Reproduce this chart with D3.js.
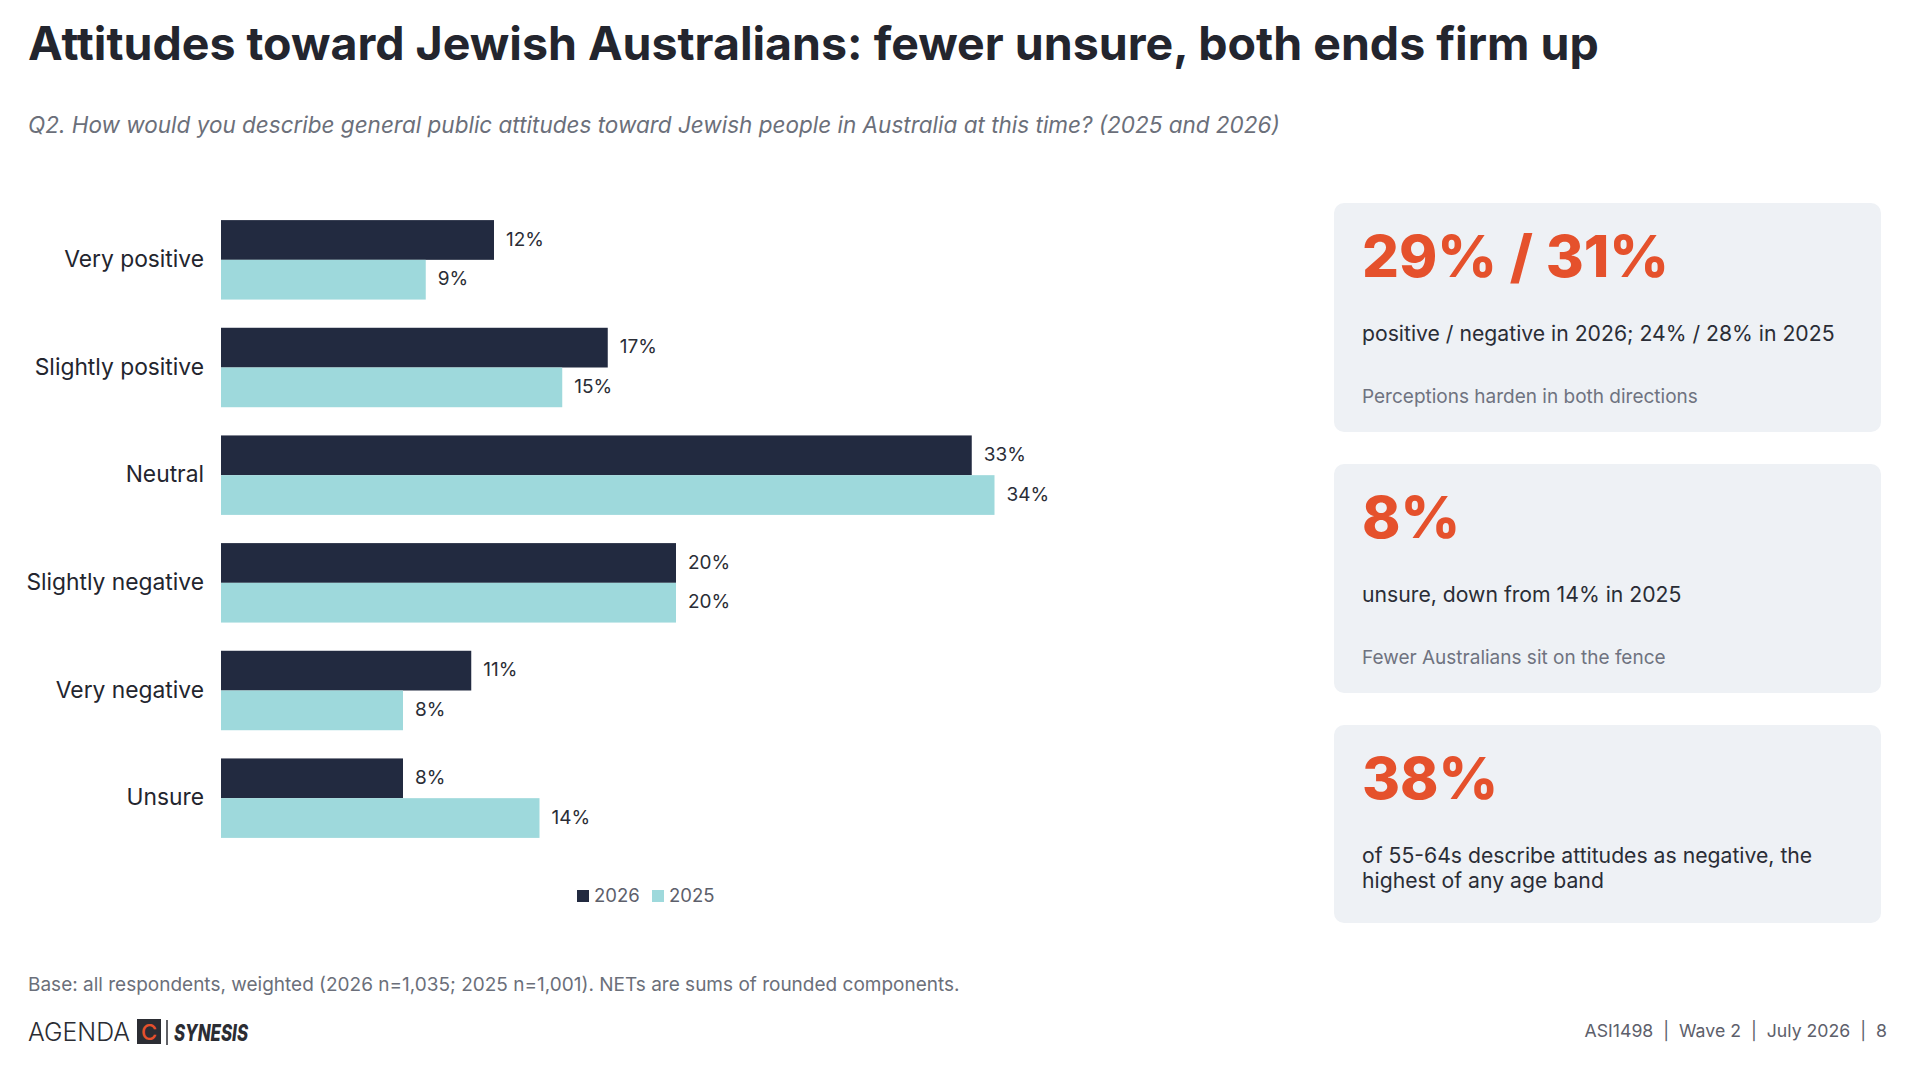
<!DOCTYPE html>
<html>
<head>
<meta charset="utf-8">
<script src="https://cdn.jsdelivr.net/npm/d3@7"></script>
<style>
  html, body { margin: 0; padding: 0; background: #ffffff; }
  svg { display: block; font-family: "Inter", "Noto Sans", sans-serif; }
</style>
</head>
<body>
<svg id="chart" width="1918" height="1068"></svg>
<script>
// chart data
const categories = ["Very positive", "Slightly positive", "Neutral", "Slightly negative", "Very negative", "Unsure"];
const seriesNames = ["2026", "2025"];
const values2026 = [12, 17, 33, 20, 11, 8];
const values2025 = [9, 15, 34, 20, 8, 14];

// callout cards on the right
const cardBig = ["29% / 31%", "8%", "38%"];
const cardText = [
    ["positive / negative in 2026; 24% / 28% in 2025"],
    ["unsure, down from 14% in 2025"],
    ["of 55-64s describe attitudes as negative, the", "highest of any age band"]
];
const cardNote = ["Perceptions harden in both directions", "Fewer Australians sit on the fence", ""];

const colors = { "2026": "#222a40", "2025": "#9ed9dc" };

document.addEventListener("DOMContentLoaded", () => {
    const svg = d3.select("#chart");

    // title + question
    svg.append("text")
        .attr("x", 28).attr("y", 59.5)
        .style("font-size", "46.5px").style("font-weight", 700)
        .attr("fill", "#23252e")
        .text("Attitudes toward Jewish Australians: fewer unsure, both ends firm up");

    svg.append("text")
        .attr("x", 28).attr("y", 133)
        .style("font-size", "22.5px").style("font-style", "italic")
        .attr("fill", "#6b6f7a")
        .text("Q2. How would you describe general public attitudes toward Jewish people in Australia at this time? (2025 and 2026)");

    // scales
    const y = d3.scaleBand()
        .domain(categories)
        .range([206, 852])
        .paddingInner(0.262)
        .paddingOuter(0.131);

    const ySub = d3.scaleBand()
        .domain(seriesNames)
        .range([0, y.bandwidth()]);

    const x = d3.scaleLinear()
        .domain([0, 34])
        .range([221, 994.5]);

    const rows = categories.map((c, i) => ({
        cat: c,
        vals: [
            { key: "2026", v: values2026[i] },
            { key: "2025", v: values2025[i] }
        ]
    }));

    const groups = svg.append("g")
        .selectAll("g")
        .data(rows)
        .enter()
        .append("g")
        .attr("transform", d => `translate(0,${y(d.cat)})`);

    groups.selectAll("rect")
        .data(d => d.vals)
        .enter()
        .append("rect")
        .attr("x", x(0))
        .attr("y", d => ySub(d.key))
        .attr("width", d => x(d.v) - x(0))
        .attr("height", ySub.bandwidth())
        .attr("fill", d => colors[d.key]);

    groups.selectAll("text.val")
        .data(d => d.vals)
        .enter()
        .append("text")
        .attr("class", "val")
        .attr("x", d => x(d.v) + 12)
        .attr("y", d => ySub(d.key) + ySub.bandwidth() / 2)
        .attr("dy", "0.3em")
        .style("font-size", "19px")
        .attr("fill", "#2a2d36")
        .text(d => d.v + "%");

    // category axis, no line or ticks
    const yAxis = svg.append("g")
        .attr("transform", `translate(${x(0) - 17},0)`)
        .call(d3.axisLeft(y).tickSize(0).tickPadding(0));
    yAxis.select(".domain").remove();
    yAxis.selectAll("text")
        .style("font-size", "22.8px")
        .style("font-family", "Inter, sans-serif")
        .attr("fill", "#23252e");

    // legend
    const legend = svg.append("g").attr("transform", "translate(577,890)");
    const legendX = [0, 75];
    seriesNames.forEach((s, i) => {
        legend.append("rect")
            .attr("x", legendX[i]).attr("y", 0)
            .attr("width", 12).attr("height", 12)
            .attr("fill", colors[s]);
        legend.append("text")
            .attr("x", legendX[i] + 17).attr("y", 11.5)
            .style("font-size", "18.5px")
            .attr("fill", "#5d606b")
            .text(s);
    });

    // cards
    const cardTop = [203, 464, 725];
    const cardH = [229, 229, 198];
    const cards = svg.append("g")
        .selectAll("g")
        .data(cardBig)
        .enter()
        .append("g")
        .attr("transform", (d, i) => `translate(1334,${cardTop[i]})`);

    cards.append("rect")
        .attr("width", 547)
        .attr("height", (d, i) => cardH[i])
        .attr("rx", 10)
        .attr("fill", "#eef1f5");

    cards.append("text")
        .attr("x", 28).attr("y", 74)
        .style("font-size", "58px").style("font-weight", 800)
        .attr("fill", "#e5512c")
        .text(d => d);

    cards.each(function (d, i) {
        const g = d3.select(this);
        cardText[i].forEach((line, j) => {
            g.append("text")
                .attr("x", 28).attr("y", 138 + j * 25)
                .style("font-size", "21.2px")
                .attr("fill", "#2a2d36")
                .text(line);
        });
        if (cardNote[i]) {
            g.append("text")
                .attr("x", 28).attr("y", 200)
                .style("font-size", "19px")
                .attr("fill", "#6f7380")
                .text(cardNote[i]);
        }
    });

    // footnote
    svg.append("text")
        .attr("x", 28).attr("y", 991)
        .style("font-size", "19px")
        .attr("fill", "#6b6f7a")
        .text("Base: all respondents, weighted (2026 n=1,035; 2025 n=1,001). NETs are sums of rounded components.");

    // logo
    const logo = svg.append("g").attr("transform", "translate(28,1041)");
    logo.append("text")
        .attr("x", 0).attr("y", 0)
        .attr("textLength", 102).attr("lengthAdjust", "spacingAndGlyphs")
        .style("font-size", "25px").style("font-weight", 300)
        .attr("fill", "#2b2d33")
        .text("AGENDA");
    logo.append("rect")
        .attr("x", 109).attr("y", -22)
        .attr("width", 24).attr("height", 25)
        .attr("fill", "#2b2d33");
    logo.append("text")
        .attr("x", 121).attr("y", -1)
        .attr("text-anchor", "middle")
        .style("font-size", "22px").style("font-weight", 500)
        .attr("fill", "#e5512c")
        .text("C");
    logo.append("line")
        .attr("x1", 139).attr("x2", 139)
        .attr("y1", -21).attr("y2", 4)
        .attr("stroke", "#2b2d33").attr("stroke-width", 1.5);
    logo.append("text")
        .attr("x", 146).attr("y", 0)
        .attr("textLength", 74).attr("lengthAdjust", "spacingAndGlyphs")
        .style("font-size", "23px").style("font-weight", 800).style("font-style", "italic")
        .attr("fill", "#2b2d33")
        .text("SYNESIS");

    // page info
    svg.append("text")
        .attr("x", 1887).attr("y", 1037)
        .attr("text-anchor", "end")
        .style("font-size", "17.7px")
        .attr("fill", "#5d606b")
        .style("white-space", "pre")
        .text("ASI1498  |  Wave 2  |  July 2026  |  8");
});
</script>
</body>
</html>
